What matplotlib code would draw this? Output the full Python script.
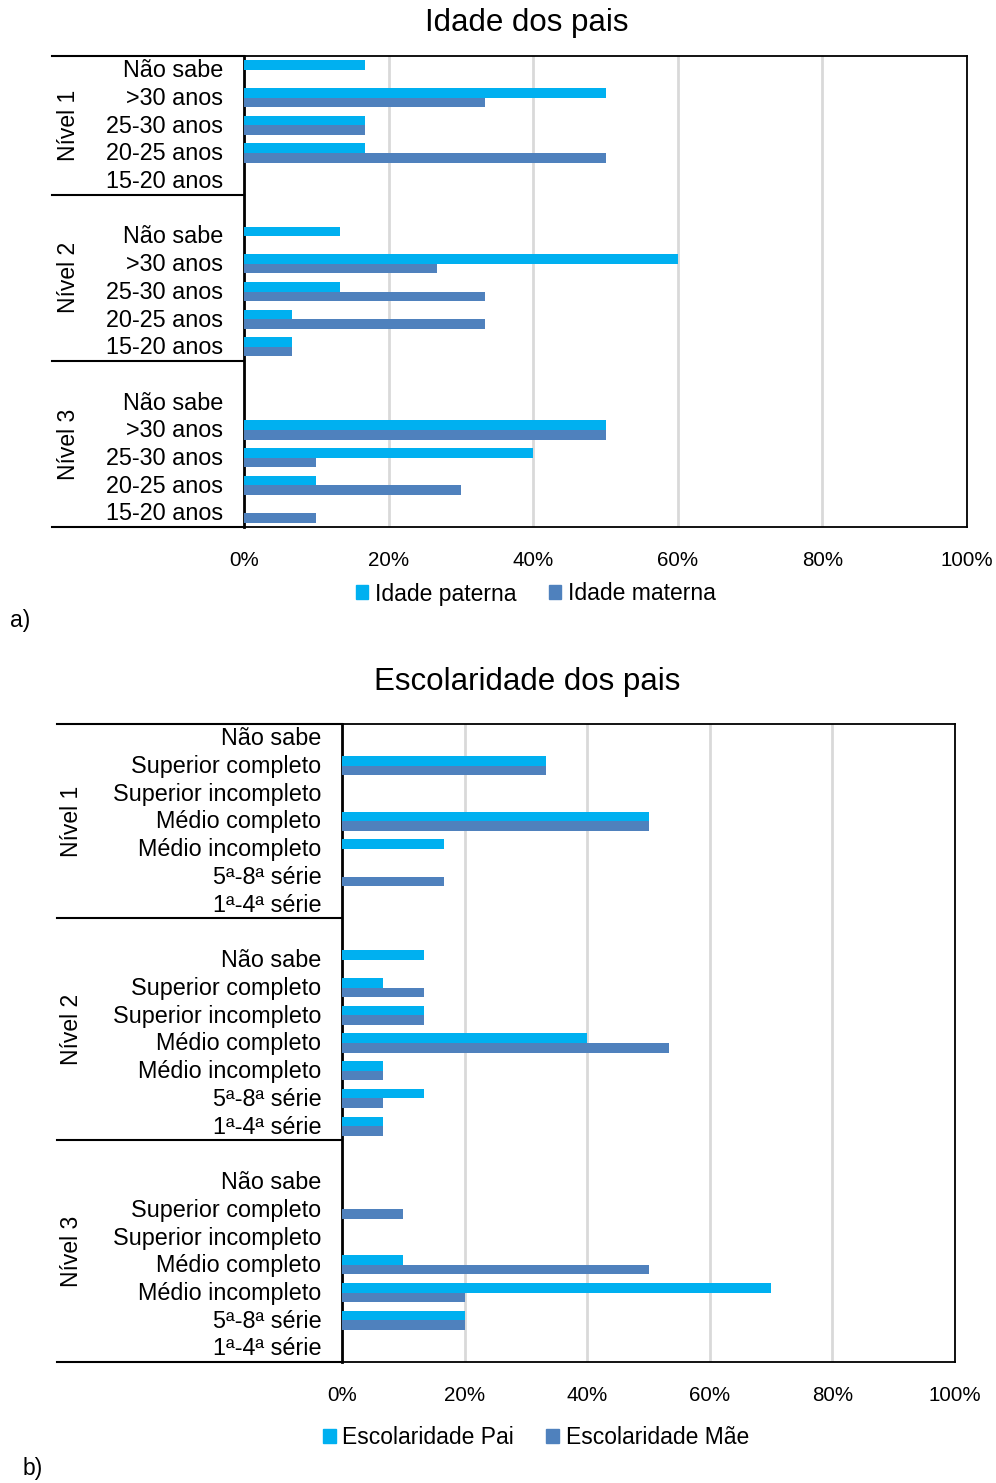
import numpy as np
import matplotlib
matplotlib.use("Agg")
import matplotlib.pyplot as plt
from matplotlib.patches import Patch
from matplotlib.lines import Line2D

plt.rcParams['font.family'] = ['Liberation Sans', 'DejaVu Sans']

# dados - idade dos pais (%), ordem de cima para baixo
niveis = ['Nível 1', 'Nível 2', 'Nível 3']
idade_cat = ['Não sabe', '>30 anos', '25-30 anos', '20-25 anos', '15-20 anos']
idade_paterna = [[16.7, 50.0, 16.7, 16.7, 0.0],
                 [13.3, 60.0, 13.3, 6.7, 6.7],
                 [0.0, 50.0, 40.0, 10.0, 0.0]]
idade_materna = [[0.0, 33.3, 16.7, 50.0, 0.0],
                 [0.0, 26.7, 33.3, 33.3, 6.7],
                 [0.0, 50.0, 10.0, 30.0, 10.0]]

# dados - escolaridade dos pais (%)
esc_cat = ['Não sabe', 'Superior completo', 'Superior incompleto', 'Médio completo',
           'Médio incompleto', '5ª-8ª série', '1ª-4ª série']
esc_pai = [[0.0, 33.3, 0.0, 50.0, 16.7, 0.0, 0.0],
           [13.3, 6.7, 13.3, 40.0, 6.7, 13.3, 6.7],
           [0.0, 0.0, 0.0, 10.0, 70.0, 20.0, 0.0]]
esc_mae = [[0.0, 33.3, 0.0, 50.0, 0.0, 16.7, 0.0],
           [0.0, 13.3, 13.3, 53.3, 6.7, 6.7, 6.7],
           [0.0, 10.0, 0.0, 50.0, 20.0, 20.0, 0.0]]

xticks = [0, 20, 40, 60, 80, 100]
xtick_labels = ['0%', '20%', '40%', '60%', '80%', '100%']

COR_PAI = '#00B0F0'
COR_MAE = '#4F81BD'

W, H = 996, 1483
fig = plt.figure(figsize=(W / 100, H / 100), dpi=100)


def px_axes(x0, y0, x1, y1):
    return fig.add_axes([x0 / W, 1 - y1 / H, (x1 - x0) / W, (y1 - y0) / H])


def painel(ax, cats, serie1, serie2, nomes, grupo_x0, titulo, titulo_y, leg_y):
    n = len(cats)
    # cada grupo ocupa n posicoes, com uma posicao vazia antes dos grupos 2 e 3
    pos, labels = [], []
    for g in range(3):
        base = g * (n + 1)
        for k in range(n):
            pos.append(base + k)
            labels.append(cats[k])
    pos = np.array(pos)
    v1 = np.concatenate(serie1)
    v2 = np.concatenate(serie2)
    h = 0.345
    ax.barh(pos - h / 2, v1, height=h, color=COR_PAI, linewidth=0, zorder=3)
    ax.barh(pos + h / 2, v2, height=h, color=COR_MAE, linewidth=0, zorder=3)

    ax.set_xlim(0, 100)
    ax.set_ylim(3 * n + 1.5, -0.5)
    ax.set_yticks(pos - 0.06)
    ax.set_yticklabels(labels, fontsize=16.8)
    ax.set_xticks(xticks)
    ax.set_xticklabels(xtick_labels, fontsize=14.8)
    ax.tick_params(axis='both', length=0)
    ax.tick_params(axis='y', pad=15)
    ax.tick_params(axis='x', pad=17)
    ax.grid(axis='x', color='#D9D9D9', linewidth=2, zorder=0)
    ax.set_axisbelow(True)
    for s in ['top', 'bottom', 'right']:
        ax.spines[s].set_color('black')
        ax.spines[s].set_linewidth(1.3)
    ax.spines['left'].set_linewidth(2)

    # linhas dos grupos à esquerda do eixo
    x0 = ax.get_position().x0
    tr = ax.get_yaxis_transform()
    fx = (grupo_x0 / W - x0) / ax.get_position().width
    limites = [-0.5, n - 0.5, 2 * n + 0.5, 3 * n + 1.5]
    for yy in limites:
        ax.add_line(Line2D([fx, 0], [yy, yy], transform=tr, color='black',
                           linewidth=1.5, clip_on=False))
    for nome, a, b in zip(niveis, limites[:-1], limites[1:]):
        ax.text(fx + 0.023, (a + b) / 2, nome, transform=tr, rotation=90, fontsize=16.5,
                ha='center', va='center')

    fig.text(527 / W, 1 - titulo_y / H, titulo, fontsize=22.5, ha='center', va='center')
    handles = [Patch(color=COR_PAI, label=nomes[0]), Patch(color=COR_MAE, label=nomes[1])]
    fig.legend(handles=handles, loc='center', bbox_to_anchor=(536 / W, 1 - leg_y / H),
               ncol=2, frameon=False, fontsize=16.5, handlelength=0.55, handleheight=0.55,
               handletextpad=0.3, columnspacing=1.4)


ax1 = px_axes(244, 56, 967, 527)
painel(ax1, idade_cat, idade_paterna, idade_materna, ['Idade paterna', 'Idade materna'],
       52, 'Idade dos pais', 23, 594)

ax2 = px_axes(342, 724, 955, 1362)
painel(ax2, esc_cat, esc_pai, esc_mae, ['Escolaridade Pai', 'Escolaridade Mãe'],
       57, 'Escolaridade dos pais', 682, 1438)

fig.text(20 / W, 1 - 621 / H, 'a)', fontsize=16.5, ha='center', va='center')
fig.text(33 / W, 1 - 1468 / H, 'b)', fontsize=16.5, ha='center', va='center')

fig.savefig('out.png', dpi=100)
